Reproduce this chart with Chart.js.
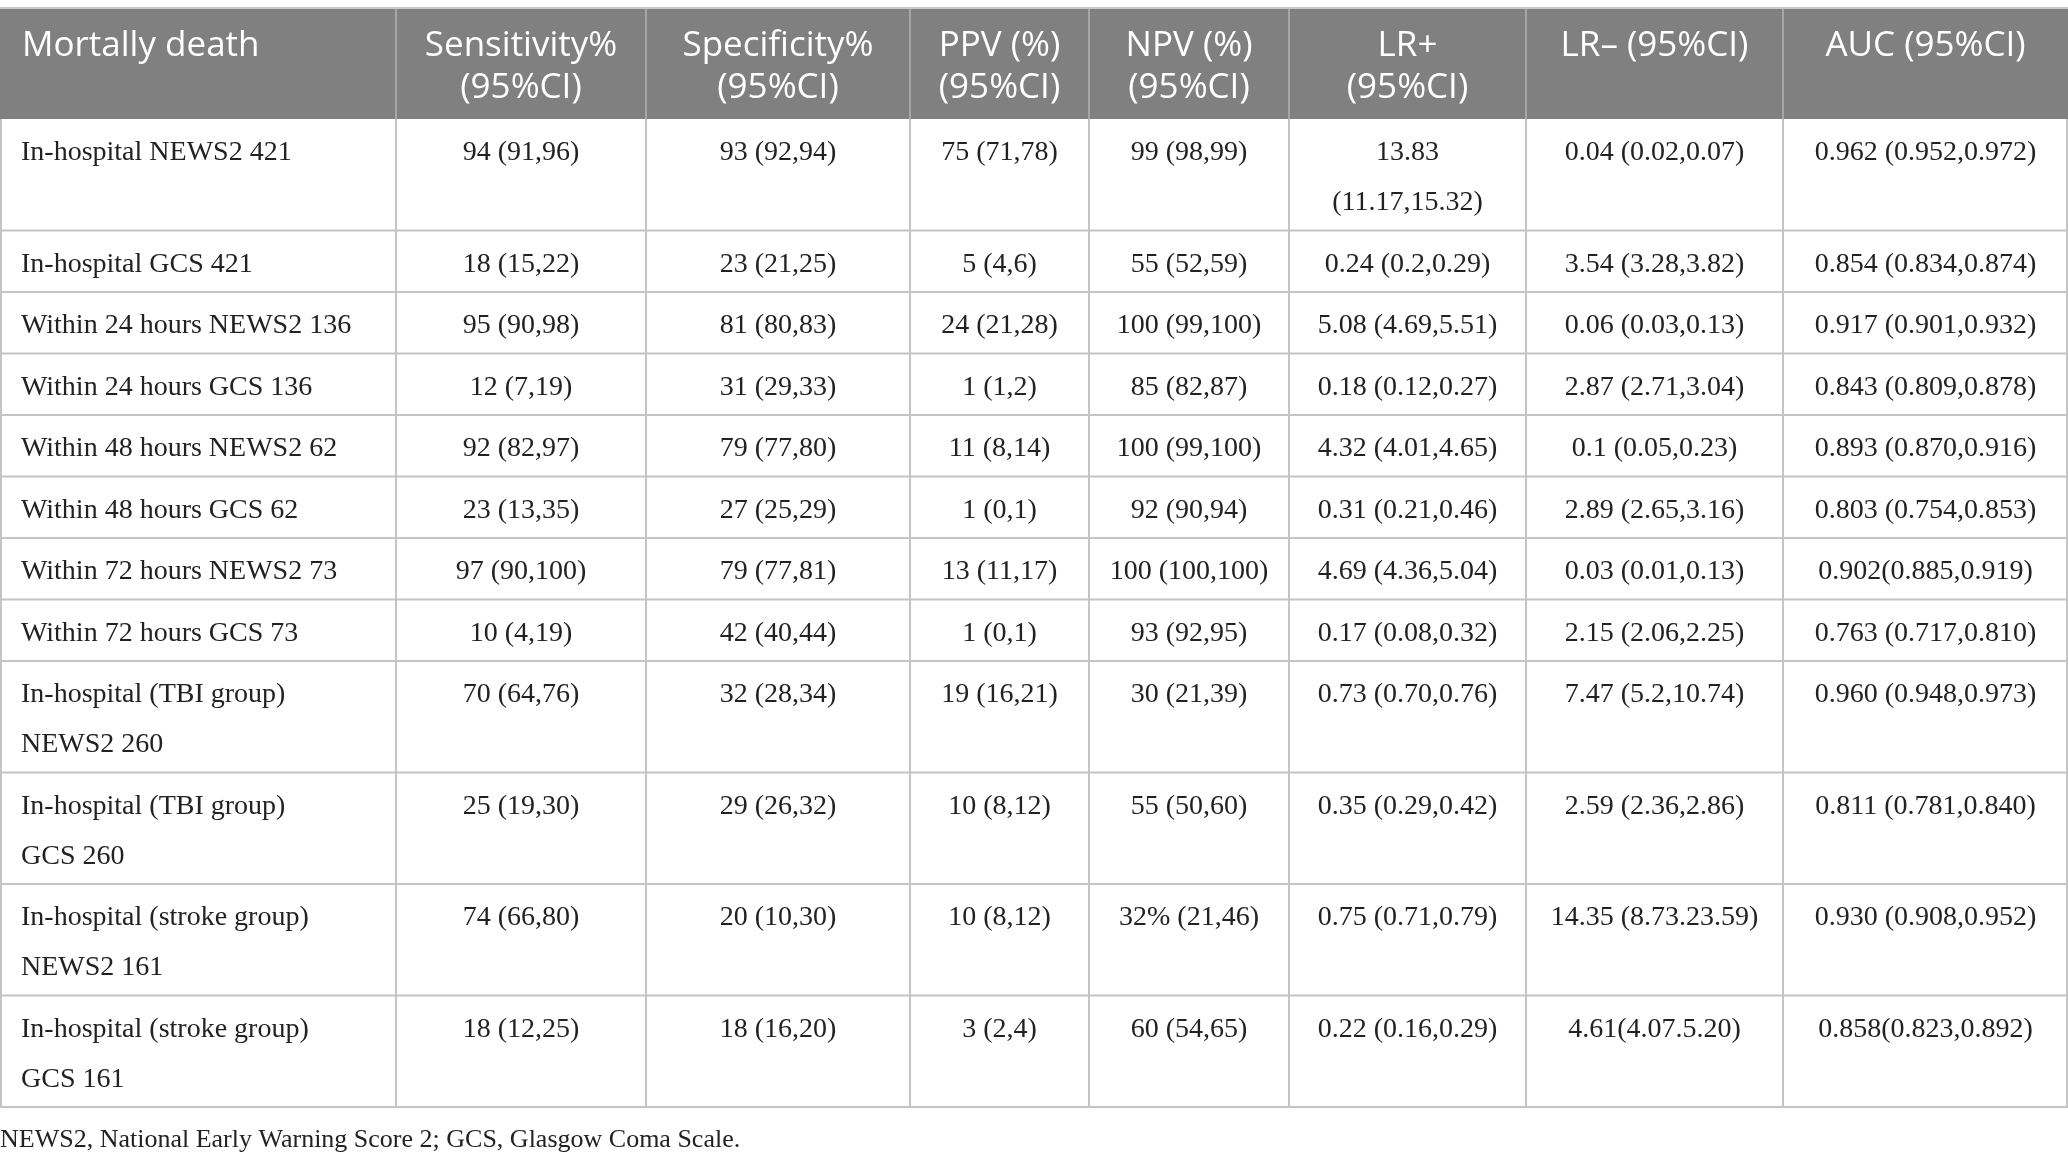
<!DOCTYPE html>
<html>
<head>
<meta charset="utf-8">
<script src="https://cdn.jsdelivr.net/npm/chart.js@4"></script>
<style>
  html, body { margin: 0; padding: 0; background: #fff; }
  canvas { display: block; }
</style>
</head>
<body>
<canvas id="tableChart" width="2068" height="1161"></canvas>
<script>
// table content
const headers = [
  ['Mortally death'],
  ['Sensitivity%', '(95%CI)'],
  ['Specificity%', '(95%CI)'],
  ['PPV (%)', '(95%CI)'],
  ['NPV (%)', '(95%CI)'],
  ['LR+', '(95%CI)'],
  ['LR\u2013 (95%CI)'],
  ['AUC (95%CI)']
];

const rowLabels = [
  'In-hospital NEWS2 421',
  'In-hospital GCS 421',
  'Within 24 hours NEWS2 136',
  'Within 24 hours GCS 136',
  'Within 48 hours NEWS2 62',
  'Within 48 hours GCS 62',
  'Within 72 hours NEWS2 73',
  'Within 72 hours GCS 73',
  'In-hospital (TBI group)\nNEWS2 260',
  'In-hospital (TBI group)\nGCS 260',
  'In-hospital (stroke group)\nNEWS2 161',
  'In-hospital (stroke group)\nGCS 161'
];

const sensitivity = ['94 (91,96)', '18 (15,22)', '95 (90,98)', '12 (7,19)', '92 (82,97)', '23 (13,35)',
  '97 (90,100)', '10 (4,19)', '70 (64,76)', '25 (19,30)', '74 (66,80)', '18 (12,25)'];
const specificity = ['93 (92,94)', '23 (21,25)', '81 (80,83)', '31 (29,33)', '79 (77,80)', '27 (25,29)',
  '79 (77,81)', '42 (40,44)', '32 (28,34)', '29 (26,32)', '20 (10,30)', '18 (16,20)'];
const ppv = ['75 (71,78)', '5 (4,6)', '24 (21,28)', '1 (1,2)', '11 (8,14)', '1 (0,1)',
  '13 (11,17)', '1 (0,1)', '19 (16,21)', '10 (8,12)', '10 (8,12)', '3 (2,4)'];
const npv = ['99 (98,99)', '55 (52,59)', '100 (99,100)', '85 (82,87)', '100 (99,100)', '92 (90,94)',
  '100 (100,100)', '93 (92,95)', '30 (21,39)', '55 (50,60)', '32% (21,46)', '60 (54,65)'];
const lrPlus = ['13.83\n(11.17,15.32)', '0.24 (0.2,0.29)', '5.08 (4.69,5.51)', '0.18 (0.12,0.27)',
  '4.32 (4.01,4.65)', '0.31 (0.21,0.46)', '4.69 (4.36,5.04)', '0.17 (0.08,0.32)',
  '0.73 (0.70,0.76)', '0.35 (0.29,0.42)', '0.75 (0.71,0.79)', '0.22 (0.16,0.29)'];
const lrMinus = ['0.04 (0.02,0.07)', '3.54 (3.28,3.82)', '0.06 (0.03,0.13)', '2.87 (2.71,3.04)',
  '0.1 (0.05,0.23)', '2.89 (2.65,3.16)', '0.03 (0.01,0.13)', '2.15 (2.06,2.25)',
  '7.47 (5.2,10.74)', '2.59 (2.36,2.86)', '14.35 (8.73.23.59)', '4.61(4.07.5.20)'];
const auc = ['0.962 (0.952,0.972)', '0.854 (0.834,0.874)', '0.917 (0.901,0.932)', '0.843 (0.809,0.878)',
  '0.893 (0.870,0.916)', '0.803 (0.754,0.853)', '0.902(0.885,0.919)', '0.763 (0.717,0.810)',
  '0.960 (0.948,0.973)', '0.811 (0.781,0.840)', '0.930 (0.908,0.952)', '0.858(0.823,0.892)'];

const footnote = 'NEWS2, National Early Warning Score 2; GCS, Glasgow Coma Scale.';

// layout (in scale units)
const colEdges = [0, 396, 646, 910, 1089, 1289, 1526, 1783, 2068];
const headTop = 9, headBottom = 119;
const lineStep = 50, rowBase = 61.5;

const columns = [rowLabels, sensitivity, specificity, ppv, npv, lrPlus, lrMinus, auc];

const tablePlugin = {
  id: 'tablePlugin',
  afterDraw(chart) {
    const c = chart.ctx;
    const xs = chart.scales.x, ys = chart.scales.y;
    const px = v => xs.getPixelForValue(v);
    const py = v => ys.getPixelForValue(v);
    const left = px(colEdges[0]), right = px(colEdges[colEdges.length - 1]);

    // row edges from number of lines in each row
    const rowTops = [headBottom];
    rowLabels.forEach((_, i) => {
      const lines = Math.max(...columns.map(col => col[i].split('\n').length));
      rowTops.push(rowTops[i] + rowBase + (lines - 1) * lineStep);
    });
    const tableBottom = rowTops[rowTops.length - 1];

    c.save();
    // header band
    c.fillStyle = '#808080';
    c.fillRect(left, py(headTop), right - left, py(headBottom) - py(headTop));
    c.strokeStyle = '#a6a6a6';
    c.lineWidth = 2;
    for (let k = 1; k < colEdges.length - 1; k++) {
      c.beginPath();
      c.moveTo(px(colEdges[k]), py(headTop));
      c.lineTo(px(colEdges[k]), py(headBottom));
      c.stroke();
    }
    c.strokeStyle = '#c8c8c8';
    c.beginPath();
    c.moveTo(left, py(headTop) - 1);
    c.lineTo(right, py(headTop) - 1);
    c.stroke();

    c.fillStyle = '#ffffff';
    c.font = '35px "Open Sans"';
    c.textBaseline = 'alphabetic';
    headers.forEach((lines, k) => {
      lines.forEach((t, j) => {
        const y = py(56 + j * 42);
        if (k === 0) {
          c.textAlign = 'left';
          c.fillText(t, px(colEdges[0]) + 22, y);
        } else {
          c.textAlign = 'center';
          c.fillText(t, (px(colEdges[k]) + px(colEdges[k + 1])) / 2, y);
        }
      });
    });

    // body grid
    c.strokeStyle = '#c4c4c4';
    c.lineWidth = 2;
    rowTops.forEach((t, i) => {
      if (i === 0) return;
      c.beginPath();
      c.moveTo(left, py(t));
      c.lineTo(right, py(t));
      c.stroke();
    });
    colEdges.forEach((e, k) => {
      let x = px(e);
      if (k === 0) x += 1;
      if (k === colEdges.length - 1) x -= 1;
      c.beginPath();
      c.moveTo(x, py(headBottom));
      c.lineTo(x, py(tableBottom));
      c.stroke();
    });

    // body text
    c.fillStyle = '#222222';
    c.font = '28px "Liberation Serif"';
    columns.forEach((col, k) => {
      col.forEach((cell, i) => {
        cell.split('\n').forEach((t, j) => {
          const y = py(rowTops[i] + 41 + j * lineStep);
          if (k === 0) {
            c.textAlign = 'left';
            c.fillText(t, px(colEdges[0]) + 21, y);
          } else {
            c.textAlign = 'center';
            c.fillText(t, (px(colEdges[k]) + px(colEdges[k + 1])) / 2, y);
          }
        });
      });
    });

    // footnote
    c.font = '26px "Liberation Serif"';
    c.textAlign = 'left';
    c.fillText(footnote, left, py(tableBottom + 40));
    c.restore();
  }
};

new Chart(document.getElementById('tableChart'), {
  type: 'scatter',
  data: { datasets: [{ data: [] }] },
  options: {
    responsive: false,
    animation: false,
    devicePixelRatio: 1,
    layout: { padding: 0 },
    scales: {
      x: { type: 'linear', min: 0, max: 2068, display: false },
      y: { type: 'linear', min: 0, max: 1161, reverse: true, display: false }
    },
    plugins: {
      legend: { display: false },
      tooltip: { enabled: false }
    }
  },
  plugins: [tablePlugin]
});
</script>
</body>
</html>
